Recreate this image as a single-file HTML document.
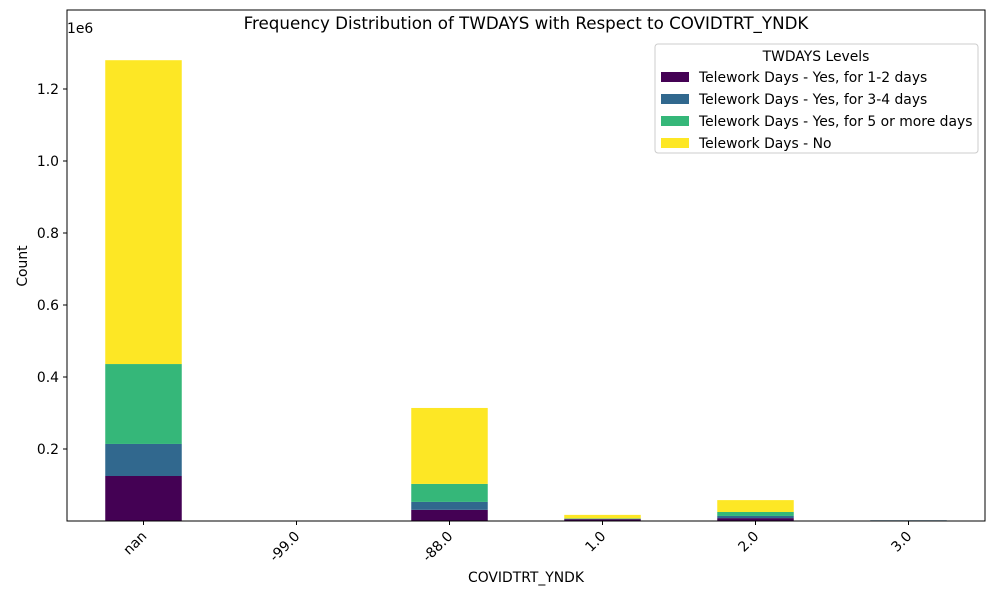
<!DOCTYPE html>
<html><head><meta charset="utf-8"><style>
body{margin:0;background:#fff;font-family:"DejaVu Sans",sans-serif}
</style></head><body>
<svg id="c" width="1000" height="600" xmlns="http://www.w3.org/2000/svg" font-family="DejaVu Sans, sans-serif">
<rect width="1000" height="600" fill="#fff"/>
<text x="526" y="29" font-size="16.7" text-anchor="middle">Frequency Distribution of TWDAYS with Respect to COVIDTRT_YNDK</text>
<g id="bars"></g>
<g id="axes"></g>
<text x="67" y="33" font-size="13.9">1e6</text>
<text x="526" y="582" font-size="13.9" text-anchor="middle">COVIDTRT_YNDK</text>
<text x="27" y="266" font-size="13.9" text-anchor="middle" transform="rotate(-90 27 266)">Count</text>
<g id="legend"></g>
</svg>
<script>
const categories=["nan","-99.0","-88.0","1.0","2.0","3.0"];
const days12=[0.125,0,0.031,0.005,0.008,0];
const days34=[0.089,0,0.022,0.001,0.006,0.002];
const days5=[0.222,0,0.050,0.001,0.011,0];
const daysNo=[0.844,0,0.211,0.010,0.033,0];
const seriesNames=["Telework Days - Yes, for 1-2 days","Telework Days - Yes, for 3-4 days","Telework Days - Yes, for 5 or more days","Telework Days - No"];
const yTicks=[0.2,0.4,0.6,0.8,1.0,1.2];
const colors=["#440154","#31688e","#35b779","#fde725"];
const series=[days12,days34,days5,daysNo];
const L=67,R=985,T=10,B=521;
const band=(R-L)/categories.length;
const x=i=>L+band*(i+0.5);
const y=v=>B-v*360;
const ns="http://www.w3.org/2000/svg";
function mk(t,a,p){const e=document.createElementNS(ns,t);for(const k in a)e.setAttribute(k,a[k]);p.appendChild(e);return e;}
const bars=document.getElementById('bars'),axes=document.getElementById('axes');
categories.forEach((c,i)=>{let cum=0;series.forEach((s,j)=>{const v=s[i];if(v>0){const r=mk('rect',{x:x(i)-band/4,y:y(cum+v),width:band/2,height:y(cum)-y(cum+v),fill:colors[j]},bars);

}cum+=v;});
const tk=mk('line',{x1:x(i),x2:x(i),y1:B,y2:B+4,stroke:'#000'},axes);
const t=mk('text',{x:x(i)+4,y:B+16,'font-size':13.9,'text-anchor':'end',transform:`rotate(-45 ${x(i)+4} ${B+16})`},axes);t.textContent=c;

});
yTicks.forEach(v=>{mk('line',{x1:L-4,x2:L,y1:y(v),y2:y(v),stroke:'#000'},axes);const t=mk('text',{x:L-8,y:y(v)+5,'font-size':13.9,'text-anchor':'end'},axes);t.textContent=v.toFixed(1);

});
mk('rect',{x:L,y:T,width:R-L,height:B-T,fill:'none',stroke:'#000','stroke-width':1},axes);
const lg=document.getElementById('legend');
mk('rect',{x:655,y:44,width:323,height:109,fill:'#fff',stroke:'#ccc',rx:3},lg);
const lt=mk('text',{x:816,y:61,'font-size':13.9,'text-anchor':'middle'},lg);lt.textContent="TWDAYS Levels";
seriesNames.forEach((n,j)=>{const yy=77+j*22;mk('rect',{x:661,y:yy-5,width:28,height:10,fill:colors[j]},lg);
const t=mk('text',{x:699,y:yy+5,'font-size':13.9},lg);t.textContent=n;

});
</script>
</body></html>
